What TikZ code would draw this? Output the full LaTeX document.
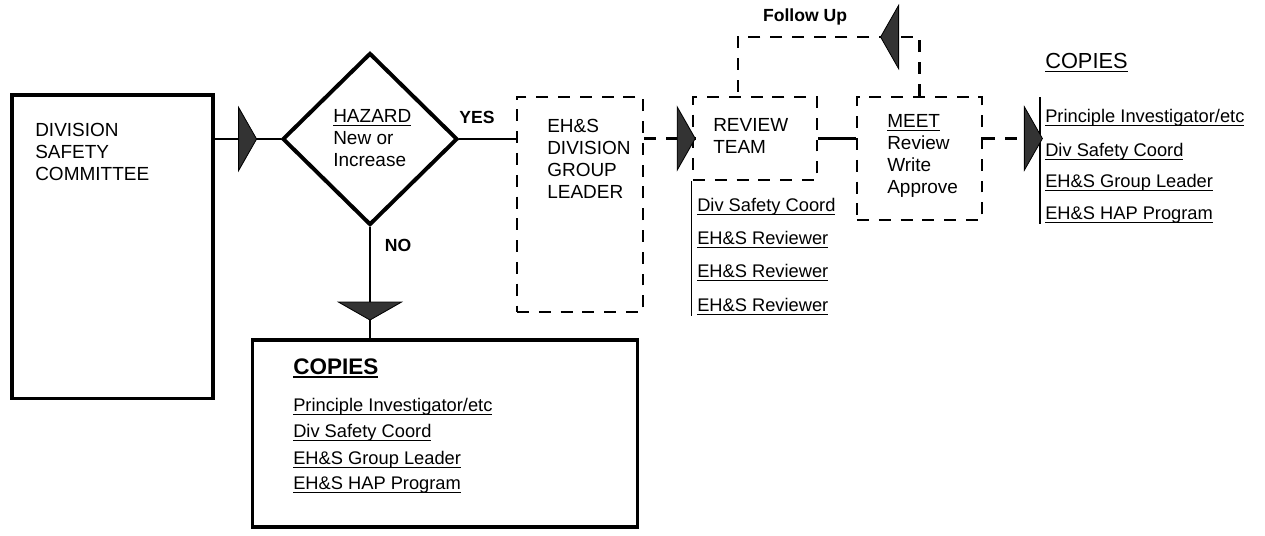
\documentclass[tikz,border=0pt]{standalone}
\usepackage{fontspec}
\setmainfont{Liberation Sans}
\usetikzlibrary{shapes.geometric,decorations.markings}

\newcommand{\thickul}[1]{\setbox0\hbox{#1}\rlap{\rule[-2.6pt]{\wd0}{1.1pt}}\box0}

\tikzset{
  solidbox/.style={draw,line width=2.2pt,inner sep=0pt},
  dashbox/.style={draw,line width=1.8pt,dash pattern=on 8.5pt off 7pt,inner sep=0pt},
  link/.style={line width=1.8pt},
  dashlink/.style={line width=1.8pt,dash pattern=on 8.5pt off 7pt},
  boxtext/.style={inner sep=0pt,anchor=west,align=left,font=\fontsize{13.5}{15.6}\selectfont},
  listitem/.style={inner sep=0pt,anchor=west,font=\fontsize{13}{15}\selectfont},
  lbl/.style={inner sep=0pt,font=\fontsize{12.5}{15}\selectfont\bfseries},
  bigtip/.style={postaction={decorate,decoration={markings,mark=at position #1 with {\filldraw[black!80,draw=black,line width=0.6pt,solid] (0,0) -- (-0.45cm,0.79cm) -- (-0.45cm,-0.79cm) -- cycle;}}}}
}

\begin{document}
\begin{tikzpicture}[x=0.025cm,y=-0.025cm]
\fill[white] (0,0) rectangle (1265,535);
\useasboundingbox (0,0) rectangle (1265,535);
% boxes
\node[solidbox,minimum width=5.025cm,minimum height=7.575cm] (dsc) at (112.5,246.5) {};
\node[solidbox,diamond,minimum width=4.375cm,minimum height=4.3cm,line width=2.8pt] (haz) at (370,139) {};
\node[dashbox,minimum width=3.15cm,minimum height=5.375cm] (ehs) at (580,204.5) {};
\node[dashbox,minimum width=3.1cm,minimum height=2.075cm] (rtm) at (755,138.5) {};
\node[dashbox,minimum width=3.125cm,minimum height=3.075cm] (meet) at (919.5,158.5) {};
\node[solidbox,minimum width=9.6cm,minimum height=4.675cm] (cpy) at (445,433.5) {};
% box texts
\node[boxtext] (dsctxt) at (35,152) {DIVISION\\SAFETY\\COMMITTEE};
\node[boxtext] (haztxt) at (333,138) {\thickul{HAZARD}\\New or\\Increase};
\node[boxtext] (ehstxt) at (547,159) {EH\&S\\DIVISION\\GROUP\\LEADER};
\node[boxtext] (rtmtxt) at (713,136) {REVIEW\\TEAM};
\node[boxtext] (meettxt) at (887,156) {\thickul{MEET}\\Review\\Write\\Approve};
\node[lbl] (yes) at (477,117) {YES};
\node[lbl] (no) at (398,245) {NO};
\node[lbl] (fu) at (805,17) {Follow Up};
% review team members
\node[listitem] (rv1) at (697,207) {\thickul{Div Safety Coord}};
\node[listitem] (rv2) at (697,240) {\thickul{EH\&S Reviewer}};
\node[listitem] (rv3) at (697,273) {\thickul{EH\&S Reviewer}};
\node[listitem] (rv4) at (697,307) {\thickul{EH\&S Reviewer}};
% copies, right
\node[listitem,font=\fontsize{15.5}{18}\selectfont] (cpr0) at (1045,63) {\thickul{COPIES}};
\node[listitem] (cpr1) at (1045,118) {\thickul{Principle Investigator/etc}};
\node[listitem] (cpr2) at (1045,152) {\thickul{Div Safety Coord}};
\node[listitem] (cpr3) at (1045,183) {\thickul{EH\&S Group Leader}};
\node[listitem] (cpr4) at (1045,215) {\thickul{EH\&S HAP Program}};
% copies, bottom
\node[listitem,font=\fontsize{16}{18}\selectfont\bfseries] (cpb0) at (293,368) {\thickul{COPIES}};
\node[listitem] (cpb1) at (293,407) {\thickul{Principle Investigator/etc}};
\node[listitem] (cpb2) at (293,433) {\thickul{Div Safety Coord}};
\node[listitem] (cpb3) at (293,460) {\thickul{EH\&S Group Leader}};
\node[listitem] (cpb4) at (293,485) {\thickul{EH\&S HAP Program}};
% list rules
\coordinate (cprtop) at (1040,97);
\coordinate (cprtip) at (1043,97);
\coordinate (futop) at (925,37);
\draw[line width=0.8pt] (rtm.south west) -- (rtm.south west |- rv4.south);
\draw[line width=0.8pt] (cprtop) -- (cprtop |- cpr4.south);
% connectors
\draw[link,bigtip=1.05cm] (dsc.east |- haz.west) -- (haz.west);
\draw[link] (haz.east) -- (haz.east -| ehs.west);
\draw[link,bigtip=2.325cm] (haz.south) -- (haz.south |- cpy.north);
\draw[dashlink,bigtip=0.99] (ehs.east |- rtm.west) -- ([xshift=0.1cm]rtm.west);
\draw[link] (rtm.east) -- (rtm.east -| meet.west);
\draw[dashlink,bigtip=2.44cm] (meet.north) -- (meet.north |- futop) -| ([xshift=-0.425cm]rtm.north);
\draw[dashlink,bigtip=0.99] (meet.east |- rtm.east) -- (cprtip |- rtm.east);
\end{tikzpicture}
\end{document}
